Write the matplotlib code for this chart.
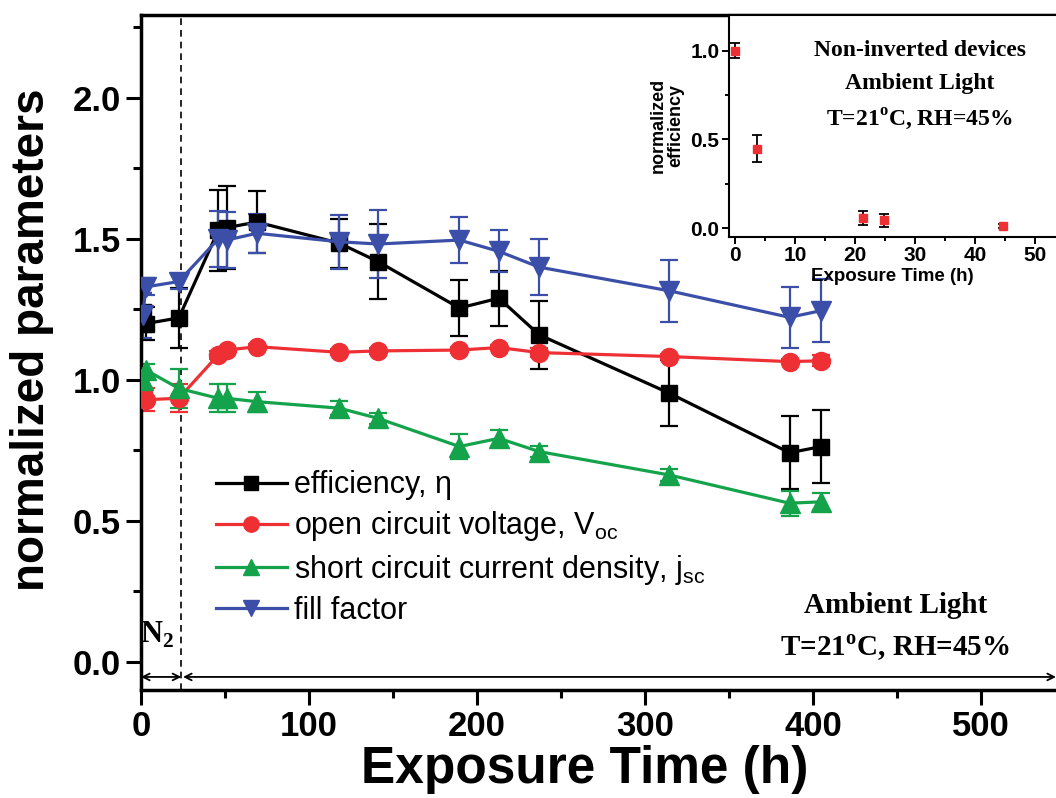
import matplotlib
matplotlib.use("Agg")
import matplotlib.pyplot as plt

plt.rcParams['font.family'] = ['Liberation Sans', 'DejaVu Sans']
plt.rcParams['mathtext.fontset'] = 'custom'
plt.rcParams['mathtext.rm'] = 'Liberation Sans'

# exposure times (h), main panel
hours = [1, 3, 22.5, 46, 51, 69, 118, 141, 189.5, 213, 237, 314.5, 386, 405]

efficiency = [1.24, 1.20, 1.22, 1.53, 1.54, 1.56, 1.485, 1.42, 1.255, 1.29, 1.16, 0.953, 0.742, 0.764]
efficiency_err = [0.07, 0.06, 0.107, 0.145, 0.147, 0.11, 0.087, 0.134, 0.10, 0.097, 0.12, 0.117, 0.13, 0.13]

voc = [0.96, 0.93, 0.935, 1.089, 1.106, 1.118, 1.098, 1.103, 1.106, 1.115, 1.097, 1.083, 1.065, 1.068]
voc_err = [0.05, 0.04, 0.05, 0.015, 0.01, 0.01, 0.01, 0.01, 0.01, 0.01, 0.015, 0.01, 0.01, 0.02]

jsc = [1.00, 1.035, 0.97, 0.935, 0.935, 0.923, 0.90, 0.864, 0.764, 0.793, 0.746, 0.663, 0.563, 0.568]
jsc_err = [0.03, 0.02, 0.07, 0.05, 0.05, 0.035, 0.025, 0.02, 0.045, 0.03, 0.02, 0.02, 0.045, 0.03]

fill_factor = [1.23, 1.33, 1.349, 1.50, 1.496, 1.52, 1.49, 1.482, 1.496, 1.456, 1.40, 1.316, 1.222, 1.246]
fill_factor_err = [0.08, 0.03, 0.025, 0.10, 0.10, 0.07, 0.095, 0.12, 0.082, 0.074, 0.10, 0.11, 0.107, 0.112]

# inset: non-inverted devices
inset_hours = [0, 3.6, 21.4, 24.9, 44.6]
inset_eff = [1.0, 0.449, 0.056, 0.045, 0.013]
inset_err = [0.04, 0.075, 0.04, 0.035, 0.01]

n2_end = 24

series = [
    (efficiency, efficiency_err, 'black', 's', 12, 'efficiency, η'),
    (voc, voc_err, '#ee3035', 'o', 13, r'open circuit voltage, V$_\mathregular{oc}$'),
    (jsc, jsc_err, '#14a24b', '^', 14, r'short circuit current density, j$_\mathregular{sc}$'),
    (fill_factor, fill_factor_err, '#3b4fa8', 'v', 14, 'fill factor'),
]

fig = plt.figure(figsize=(10.56, 7.98), dpi=100)
ax = fig.add_axes([141 / 1056, 1 - 690 / 798, 1 - 141 / 1056, (690 - 15) / 798])

for vals, errs, col, mk, ms, lab in series:
    ax.errorbar(hours, vals, yerr=errs, fmt='none', ecolor=col, elinewidth=1.6,
                capsize=6.5, capthick=1.6, zorder=2)
    ax.plot(hours, vals, color=col, lw=2.3, marker=mk, ms=ms, mec=col, mfc=col,
            label=lab, zorder=3)

ax.set_xlim(0, 544.6)
ax.set_ylim(-0.0993, 2.294)
ax.set_xticks([0, 100, 200, 300, 400, 500])
ax.set_xticks([50, 150, 250, 350, 450], minor=True)
ax.set_yticks([0.0, 0.5, 1.0, 1.5, 2.0])
ax.set_yticks([0.25, 0.75, 1.25, 1.75, 2.25], minor=True)
ax.tick_params(which='major', direction='out', length=11, width=2.2, labelsize=25)
ax.tick_params(which='minor', direction='out', length=6, width=2.2)
for lbl in ax.get_xticklabels() + ax.get_yticklabels():
    lbl.set_fontweight('bold')
for side in ['left', 'bottom', 'top']:
    ax.spines[side].set_linewidth(2.5)
ax.spines['right'].set_visible(False)

ax.set_xlabel('Exposure Time (h)', fontsize=37, fontweight='bold')
ax.set_ylabel('normalized parameters', fontsize=33, fontweight='bold')
ax.xaxis.set_label_coords(0.485, -0.082)
ax.yaxis.set_label_coords(-0.095, 0.519)

# N2 / ambient boundary
ax.axvline(n2_end, color='black', lw=1.2, ls=(0, (4, 3)), zorder=1)
arr_y = -0.053
ax.annotate('', xy=(0, arr_y), xytext=(n2_end, arr_y),
            arrowprops=dict(arrowstyle='<->', lw=1.3, color='black', shrinkA=0, shrinkB=0,
                            mutation_scale=12))
ax.annotate('', xy=(n2_end + 1, arr_y), xytext=(544.6, arr_y),
            arrowprops=dict(arrowstyle='<->', lw=1.3, color='black', shrinkA=0, shrinkB=0,
                            mutation_scale=12))
ax.text(9.5, 0.096, r'N$_\mathregular{2}$', family='Liberation Serif', fontweight='bold',
        fontsize=22, ha='center', va='center')
ax.text(449, 0.20, 'Ambient Light', family='Liberation Serif', fontweight='bold',
        fontsize=21, ha='center', va='center')
ax.text(449, 0.05, r'T=21$^\mathregular{o}$C, RH=45%', family='Liberation Serif',
        fontweight='bold', fontsize=21, ha='center', va='center')

ax.legend(loc='upper left', bbox_to_anchor=((201 - 141) / 915, (690 - 455) / 675),
          frameon=False, fontsize=22, handlelength=2.3, handletextpad=0.25,
          labelspacing=0.3, borderpad=0, markerscale=0.85)

# inset
axin = fig.add_axes([729 / 1056, 1 - 236.7 / 798, 1 - 729 / 1056, (236.7 - 15) / 798])
axin.errorbar(inset_hours, inset_eff, yerr=inset_err, fmt='s', color='#ee3035', ms=6,
              mec='#ee3035', ecolor='black', elinewidth=1.3, capsize=3.5, capthick=1.3)
axin.set_xlim(-1, 53.5)
axin.set_ylim(-0.047, 1.2)
axin.set_xticks([0, 10, 20, 30, 40, 50])
axin.set_xticks([5, 15, 25, 35, 45], minor=True)
axin.set_yticks([0.0, 0.5, 1.0])
axin.set_yticks([0.25, 0.75], minor=True)
axin.tick_params(which='major', direction='out', length=5, width=1.4, labelsize=15, pad=2)
axin.tick_params(which='minor', direction='out', length=3, width=1.4)
for lbl in axin.get_xticklabels() + axin.get_yticklabels():
    lbl.set_fontweight('bold')
for side in ['left', 'bottom', 'top']:
    axin.spines[side].set_linewidth(1.5)
axin.spines['right'].set_visible(False)
axin.set_xlabel('Exposure Time (h)', fontsize=13.5, fontweight='bold', labelpad=2)
axin.set_ylabel('normalized\nefficiency', fontsize=13, fontweight='bold', labelpad=4,
                linespacing=1.1)
axin.text(30.8, 0.80, 'Non-inverted devices\nAmbient Light\n' + r'T=21$^\mathregular{o}$C, RH=45%',
          family='Liberation Serif', fontweight='bold', fontsize=17, ha='center', va='center',
          linespacing=1.7)

fig.savefig('out.png', dpi=100)
